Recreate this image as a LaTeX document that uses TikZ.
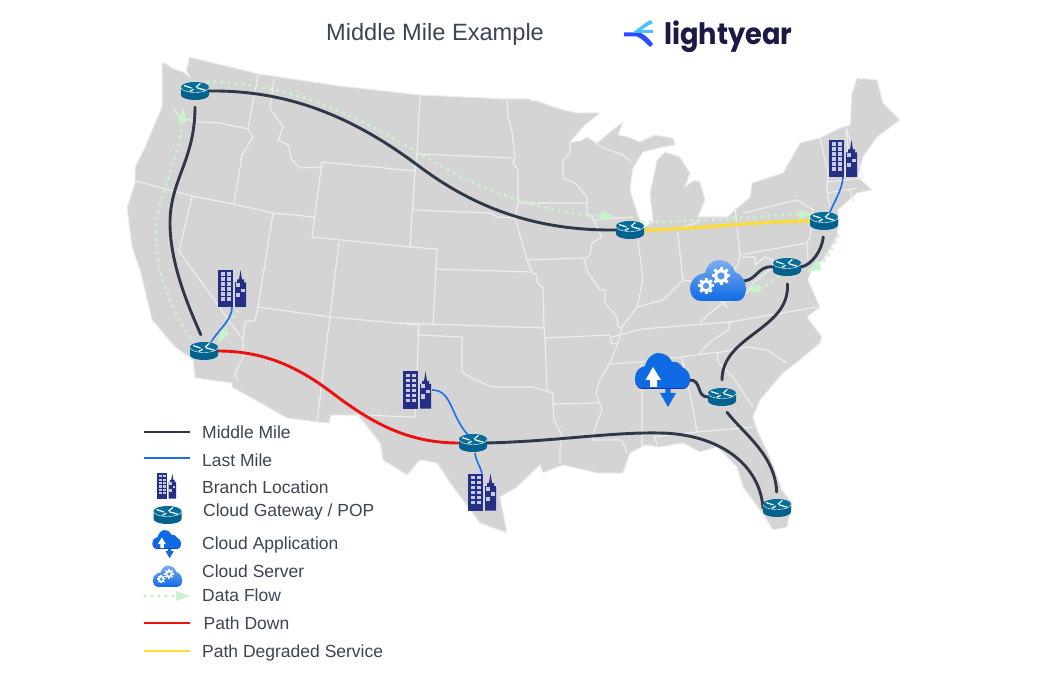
\documentclass[tikz,border=0pt]{standalone}
\usepackage{fontspec}
\setmainfont{Liberation Sans}
\newfontfamily\logofont{Poppins}
\usetikzlibrary{arrows.meta}
\definecolor{landc}{HTML}{D4D4D4}
\definecolor{borderc}{HTML}{EDEDED}
\definecolor{inkc}{HTML}{3D4452}
\definecolor{midc}{HTML}{2F3848}
\definecolor{lastc}{HTML}{1B6FE8}
\definecolor{redc}{HTML}{EE1111}
\definecolor{yelc}{HTML}{FDDC3A}
\definecolor{flowc}{HTML}{C9F3CC}
\definecolor{navyc}{HTML}{252F85}
\definecolor{winc}{HTML}{C7CBE0}
\definecolor{rbodyc}{HTML}{03628D}
\definecolor{rtopc}{HTML}{056E9B}
\definecolor{appc}{HTML}{0F6BE4}
\definecolor{appdk}{HTML}{1A2FA0}
\definecolor{logoc}{HTML}{1A1A45}
\definecolor{logoa}{HTML}{2A4BFF}
\definecolor{logob}{HTML}{4CC0FF}
\tikzset{
  x=1pt,y=-1pt,
  statelines/.style={draw=borderc,line width=1.2pt,line join=round},
  midmile/.style={draw=midc,line width=2.9pt,line cap=round},
  lastmile/.style={draw=lastc,line width=1.6pt},
  pathdown/.style={draw=redc,line width=2.9pt},
  pathdeg/.style={draw=yelc,line width=3.2pt},
  flowdots/.style={draw=flowc,line width=3.8pt,line cap=round,dash pattern=on 0pt off 7pt},
  flowtip/.style={-{Triangle[length=14pt,width=10pt,fill=flowc,line width=0pt]}},
  legtext/.style={anchor=base west,text=inkc,font=\fontsize{17.5pt}{20pt}\selectfont,inner sep=0pt},
  routerbox/.style={minimum width=28pt,minimum height=18pt,inner sep=0pt,outer sep=0pt},
  bldgbox/.style={minimum width=28pt,minimum height=37pt,inner sep=0pt,outer sep=0pt},
  cloudbox/.style={minimum width=56pt,minimum height=40pt,inner sep=0pt,outer sep=0pt},
  legline/.style={line width=2.2pt},
  router/.pic={
    \fill[rbodyc] (-14,-4) -- (-14,4) arc[start angle=180,end angle=360,x radius=14pt,y radius=5pt] -- (14,-4) -- cycle;
    \fill[rtopc] (0,-4) ellipse[x radius=14pt,y radius=5pt];
    \draw[white,line width=.4pt] (-14,-3.5) arc[start angle=180,end angle=360,x radius=14pt,y radius=5pt];
    \draw[white,line width=1.2pt]
      (-11,-5.5)--(-3.5,-3) (1,-3.8)--(5.3,-7.5) (2,-3.2)--(10.3,-.8) (-5.3,.5)--(-1.3,-1.8);
  },
  bldg/.pic={
    \fill[navyc] (-14,-18.5) rectangle (.7,18.5);
    \fill[navyc] (3,18.5)--(3,-6)--(5,-6)--(5,-9)--(7,-9)--(8.5,-18.5)--(10,-9)--(12,-9)--(12,-6)--(14,-6)--(14,18.5)--cycle;
    \foreach \r in {-16,-11,-6,-1,4,9}{
      \fill[winc] (-11,\r) rectangle ++(4,3.4);
      \fill[winc] (-5.3,\r) rectangle ++(4,3.4);
    }
    \fill[winc] (4,-5.5) rectangle (8,-1.5);
    \fill[winc] (9,.2) rectangle (13,3.5);
    \fill[winc] (4,4.5) rectangle (8,8.5);
  },
  appcloud/.pic={
    \fill[appdk] (-20,19) .. controls (-25,19) and (-27,13) .. (-27,9) -- (28,9) .. controls (28,15) and (25,19) .. (21,19) -- cycle;
    \fill[appc] (-20,18) .. controls (-25,18) and (-27,12) .. (-27,8) .. controls (-27,1) and (-22,-3) .. (-17,-4) .. controls (-15,-12) and (-9,-17) .. (-4,-17) .. controls (3,-17) and (8,-13) .. (10,-8) .. controls (15,-9) and (19,-6) .. (20,-3) .. controls (25,-1) and (28,4) .. (28,8) .. controls (28,14) and (25,18) .. (21,18) -- cycle;
    \fill[white] (-9,-3) -- (-1,10) -- (-5,10) -- (-5,17) -- (-12,17) -- (-12,10) -- (-16.5,10) -- cycle;
    \fill[appc] (3.3,19) -- (8.7,19) -- (8.7,23) -- (14,23) -- (6,37) -- (-2,23) -- (3.3,23) -- cycle;
  },
  servercloud/.pic={
    \shade[top color=appc!55!white,bottom color=appc] (-17,21) .. controls (-24,21) and (-28,15) .. (-28,9) .. controls (-28,1) and (-22,-6) .. (-13,-7) .. controls (-11,-15) and (-5,-20) .. (0,-20) .. controls (9,-20) and (15,-15) .. (17,-8) .. controls (24,-6) and (28,2) .. (28,9) .. controls (28,16) and (24,21) .. (19,21) -- cycle;
    \foreach \cx/\cy/\R in {3/-4/9.2,-12/6/8}{
      \foreach \a in {0,45,90,135}{
        \fill[white,shift={(\cx,\cy)},rotate=\a] (-1.5,-\R) rectangle (1.5,\R);
      }
      \fill[white] (\cx,\cy) circle ({.75*\R*1pt});
      \fill[appc!70!white] (\cx,\cy) circle ({.4*\R*1pt});
    }
  },
}
\begin{document}
\begin{tikzpicture}
\useasboundingbox[fill=white] (0,0) rectangle (1042,676);
% --- land ---
\path[fill=landc,draw=borderc,line width=1pt,line join=round]
(162,63)--(165,63)--(172,68)--(185,73)--(190,77)--(186,70)--(188,65)--(189,57)--(259,74)--(340,86)--(420,95)--(507,99)--(530,99)--(532,101)--(537,101)--(560,109)--(577,113)--(600,113)--(585,125)--(570,142)--(580,141)--(587,137)--(597,143)--(610,132)--(623,122)--(618,135)--(628,137)--(640,142)--(655,135)--(673,138)--(675,145)--(663,147)--(643,152)--(633,168)--(630,190)--(637,212)--(643,228)--(653,222)--(650,193)--(657,160)--(665,152)--(680,157)--(690,173)--(685,187)--(694,180)--(700,182)--(705,200)--(698,217)--(727,217)--(750,197)--(752,183)--(783,173)--(800,143)--(820,138)--(840,128)--(850,125)--(852,93)--(857,78)--(877,80)--(883,103)--(900,120)--(877,137)--(863,157)--(858,177)--(872,190)--(857,193)--(838,210)--(838,227)--(837,237)--(823,260)--(813,267)--(808,280)--(820,307)--(807,317)--(822,337)--(820,343)--(800,360)--(783,373)--(760,400)--(753,417)--(757,430)--(770,457)--(782,490)--(792,503)--(787,527)--(773,530)--(765,517)--(743,487)--(737,467)--(717,447)--(700,452)--(683,443)--(660,447)--(645,445)--(630,453)--(623,473)--(610,473)--(597,473)--(563,465)--(543,473)--(540,465)--(517,487)--(500,497)--(507,533)--(480,523)--(453,487)--(437,463)--(420,460)--(407,475)--(383,460)--(380,443)--(358,415)--(331,415)--(329,423)--(317,422)--(287,418)--(232,387)--(232,383)--(195,378)--(193,360)--(175,347)--(152,320)--(140,270)--(132,247)--(127,207)--(135,183)--(135,167)--(145,147)--(162,107)--(162,102)--cycle;
% --- state borders ---
\path[statelines]
(173,108)--(180,118)--(200,122)--(220,123)--(248,129)
(258,75)--(248,129)--(253,137)--(242,155)--(234,204)
(274,78)--(270,108)--(283,127)--(278,140)--(288,145)--(292,160)--(300,168)--(322,167)
(322,162)--(415,171)--(410,247)--(312,237)--cycle
(136,181)--(192,196)--(233,204)--(273,213)--(314,217)
(192,197)--(179,251)--(243,340)
(273,213)--(258,307)--(255,320)--(245,322)--(243,340)--(243,358)--(235,373)--(238,381)
(258,307)--(330,317)--(418,325)
(339,242)--(330,317)--(327,340)--(317,422)
(420,96)--(417,154)--(415,172)
(417,154)--(513,158)
(507,100)--(508,117)--(512,132)--(515,158)--(513,163)--(518,170)--(518,203)
(413,210)--(490,213)--(497,217)--(515,218)
(410,247)--(437,249)--(436,270)--(433,325)
(436,269)--(532,272)
(518,203)--(515,218)--(527,260)--(532,272)--(537,275)--(537,282)--(543,288)--(544,328)
(518,203)--(586,203)
(570,142)--(570,153)--(563,160)--(563,178)--(575,183)--(587,197)--(587,213)--(592,217)--(602,237)--(592,243)--(590,255)--(584,260)
(595,220)--(633,217)
(527,260)--(584,258)
(584,260)--(588,273)--(600,290)--(605,290)--(605,303)--(617,317)--(618,327)--(622,327)--(618,343)--(610,363)--(600,380)--(596,393)--(602,410)--(595,428)--(593,440)--(622,440)--(627,453)
(638,240)--(643,280)--(637,307)
(400,323)--(544,328)
(419,325)--(418,335)--(462,337)--(462,372)--(475,380)--(493,387)--(533,387)--(553,393)--(553,403)--(554,420)--(562,435)--(560,450)--(560,463)
(419,325)--(415,417)--(358,415)
(544,328)--(545,338)--(610,335)--(612,344)--(618,343)
(545,338)--(547,390)
(553,404)--(598,403)
(610,364)--(640,362)--(682,357)--(717,352)
(612,337)--(642,329)--(730,322)--(817,307)
(730,322)--(728,330)--(710,342)--(700,353)
(717,353)--(747,347)--(767,350)--(787,363)
(717,353)--(718,362)--(733,377)--(753,407)
(682,358)--(692,403)--(697,432)
(642,363)--(642,448)
(653,437)--(697,432)--(753,427)
(655,437)--(657,445)
(622,327)--(637,307)--(663,300)--(673,290)--(683,280)--(700,282)--(723,303)--(728,308)
(700,323)--(710,313)--(723,303)--(747,293)--(753,283)--(773,267)--(773,260)--(765,257)--(755,265)--(755,257)--(742,257)
(677,227)--(683,280)
(735,207)--(740,255)--(807,243)
(740,255)--(738,265)--(730,275)
(743,213)--(797,200)--(813,210)--(810,238)--(807,242)--(808,260)
(820,138)--(828,173)--(827,190)--(830,207)
(846,128)--(848,147)--(845,177)
(828,182)--(863,178)
(827,193)--(857,188)
(850,190)--(853,202)
(846,128)--(857,160)--(863,177)
(595,143)--(603,148)--(623,155)--(632,163)
(677,230)--(698,222);
% --- named places ---
\node[routerbox] (sea) at (195,91) {};
\node[routerbox] (la) at (204,351) {};
\node[routerbox] (chi) at (630,230) {};
\node[routerbox] (ny) at (824,221) {};
\node[routerbox] (dc) at (787,267) {};
\node[routerbox] (atl) at (722,397) {};
\node[routerbox] (fl) at (777,508) {};
\node[routerbox] (tx) at (473,443) {};
\node[bldgbox] (bla) at (232,288.5) {};
\node[bldgbox] (bnm) at (417,390) {};
\node[bldgbox] (btx) at (482,492) {};
\node[bldgbox] (bny) at (843,158.5) {};
\node[cloudbox] (srv) at (718,280) {};
\node[cloudbox] (app) at (662,370) {};
\coordinate (f1a) at (190,337);
\coordinate (f1b) at (183,108);
\coordinate (f2a) at (208,82);
\coordinate (f2b) at (616,217);
\coordinate (f3a) at (643,222);
\coordinate (f3b) at (813,214);
\coordinate (f4a) at (838,236);
\coordinate (f4b) at (807,272);
\coordinate (f5a) at (778,277);
\coordinate (f5b) at (746,290);
\coordinate (f6a) at (237,311);
\coordinate (f6b) at (218,343);
% --- data flow ---
\draw[flowdots,flowtip] (f1a) .. controls (165,300) and (156,265) .. (156,233) .. controls (156,195) and (180,160) .. (f1b);
\draw[flowdots,flowtip] (f2a) .. controls (280,82) and (345,110) .. (405,145) .. controls (470,185) and (530,212) .. (f2b);
\draw[flowdots,flowtip] (f3a) .. controls (690,222) and (760,216) .. (f3b);
\draw[flowdots,flowtip] (f4a) .. controls (832,250) and (825,262) .. (f4b);
\draw[flowdots,flowtip] (f5a) .. controls (770,282) and (762,288) .. (f5b);
\draw[flowdots,flowtip] (f6a) -- (f6b);
% --- middle mile ---
\draw[midmile] (sea.east) .. controls (290,90) and (355,118) .. (420,167) .. controls (470,204) and (530,231) .. (chi.west);
\draw[midmile,shorten <=7pt,shorten >=8pt] (sea.south) .. controls (195,160) and (170,180) .. (170,223) .. controls (170,265) and (190,310) .. (la.north);
\draw[pathdown] (la.east) .. controls (270,351) and (305,372) .. (335,395) .. controls (375,425) and (410,443) .. (tx.west);
\draw[midmile] (tx.east) .. controls (560,441) and (610,432) .. (660,433) .. controls (720,434) and (760,465) .. (fl.west);
\draw[midmile,shorten <=8pt,shorten >=7pt] (atl.south) .. controls (745,435) and (775,455) .. (fl.north);
\draw[pathdeg] (chi.east) .. controls (700,229) and (760,221) .. (ny.west);
\draw[midmile,shorten <=7pt] (ny.south) .. controls (822,250) and (812,265) .. (dc.east);
\draw[midmile] (dc.west) .. controls (757,265) and (757,282) .. (741,281);
\draw[midmile,shorten <=8pt,shorten >=8pt] (dc.south) .. controls (790,330) and (722,335) .. (atl.north);
\draw[midmile] (690,380) .. controls (702,380) and (696,397) .. (atl.west);
% --- last mile ---
\draw[lastmile] (bla.south) .. controls (232,320) and (220,328) .. (211,342);
\draw[lastmile] (432,390) .. controls (452,390) and (450,415) .. (468,435);
\draw[lastmile] (475,453) .. controls (476,462) and (480,465) .. (btx.north);
\draw[lastmile] (bny.south) .. controls (842,190) and (836,198) .. (830,212);
% --- icons ---
\foreach \n in {sea,la,chi,ny,dc,atl,fl,tx}{ \pic at (\n) {router}; }
\foreach \n in {bla,bnm,btx,bny}{ \pic at (\n) {bldg}; }
\pic at (srv) {servercloud};
\pic at (app) {appcloud};
% --- title and logo ---
\node[anchor=base west,inner sep=0pt,text=inkc,font=\fontsize{23.6pt}{28pt}\selectfont] (title) at (326,41) {Middle Mile Example};
\node[anchor=base west,inner sep=0pt,text=logoc,font=\logofont\bfseries\fontsize{29.5pt}{34pt}\selectfont,xscale=.925,transform shape] (logo) at (664,44.5) {lightyear};
\fill[logoa] (624,32.5) -- (640,32.5) .. controls (646,35) and (650,40) .. (653,44) -- (650,47) .. controls (645,42) and (641,38) .. (637,36.5) -- (624,36.5) -- cycle;
\fill[logob] (650,20) -- (653,23) .. controls (647,26) and (644,28) .. (641,30) -- (653,30) -- (653,33) -- (632,33) .. controls (639,28) and (645,23) .. (650,20) -- cycle;
% --- legend ---
\coordinate (l1a) at (144,432); \coordinate (l1b) at (190,432);
\coordinate (l2a) at (144,458); \coordinate (l2b) at (190,458);
\coordinate (l3a) at (145,596); \coordinate (l3b) at (190,596);
\coordinate (l4a) at (144,623); \coordinate (l4b) at (190,623);
\coordinate (l5a) at (144,651); \coordinate (l5b) at (190,651);
\draw[draw=midc,legline] (l1a)--(l1b);
\draw[draw=lastc,legline] (l2a)--(l2b);
\draw[flowdots,flowtip] (l3a)--(l3b);
\draw[draw=redc,legline] (l4a)--(l4b);
\draw[draw=yelc,legline] (l5a)--(l5b);
\pic[scale=.68] at (166.5,486) {bldg};
\pic at (167.5,515) {router};
\pic[scale=.52] at (166.5,539) {appcloud};
\pic[scale=.52] at (167.5,576) {servercloud};
\node[legtext] (t1) at (202,438) {Middle Mile};
\node[legtext] (t2) at (202,466) {Last Mile};
\node[legtext] (t3) at (202,493) {Branch Location};
\node[legtext] (t4) at (203,516) {Cloud Gateway / POP};
\node[legtext] (t5) at (202,549) {Cloud Application};
\node[legtext] (t6) at (202,577) {Cloud Server};
\node[legtext] (t7) at (202,601) {Data Flow};
\node[legtext] (t8) at (203.5,629) {Path Down};
\node[legtext] (t9) at (202,657) {Path Degraded Service};
\end{tikzpicture}
\end{document}
